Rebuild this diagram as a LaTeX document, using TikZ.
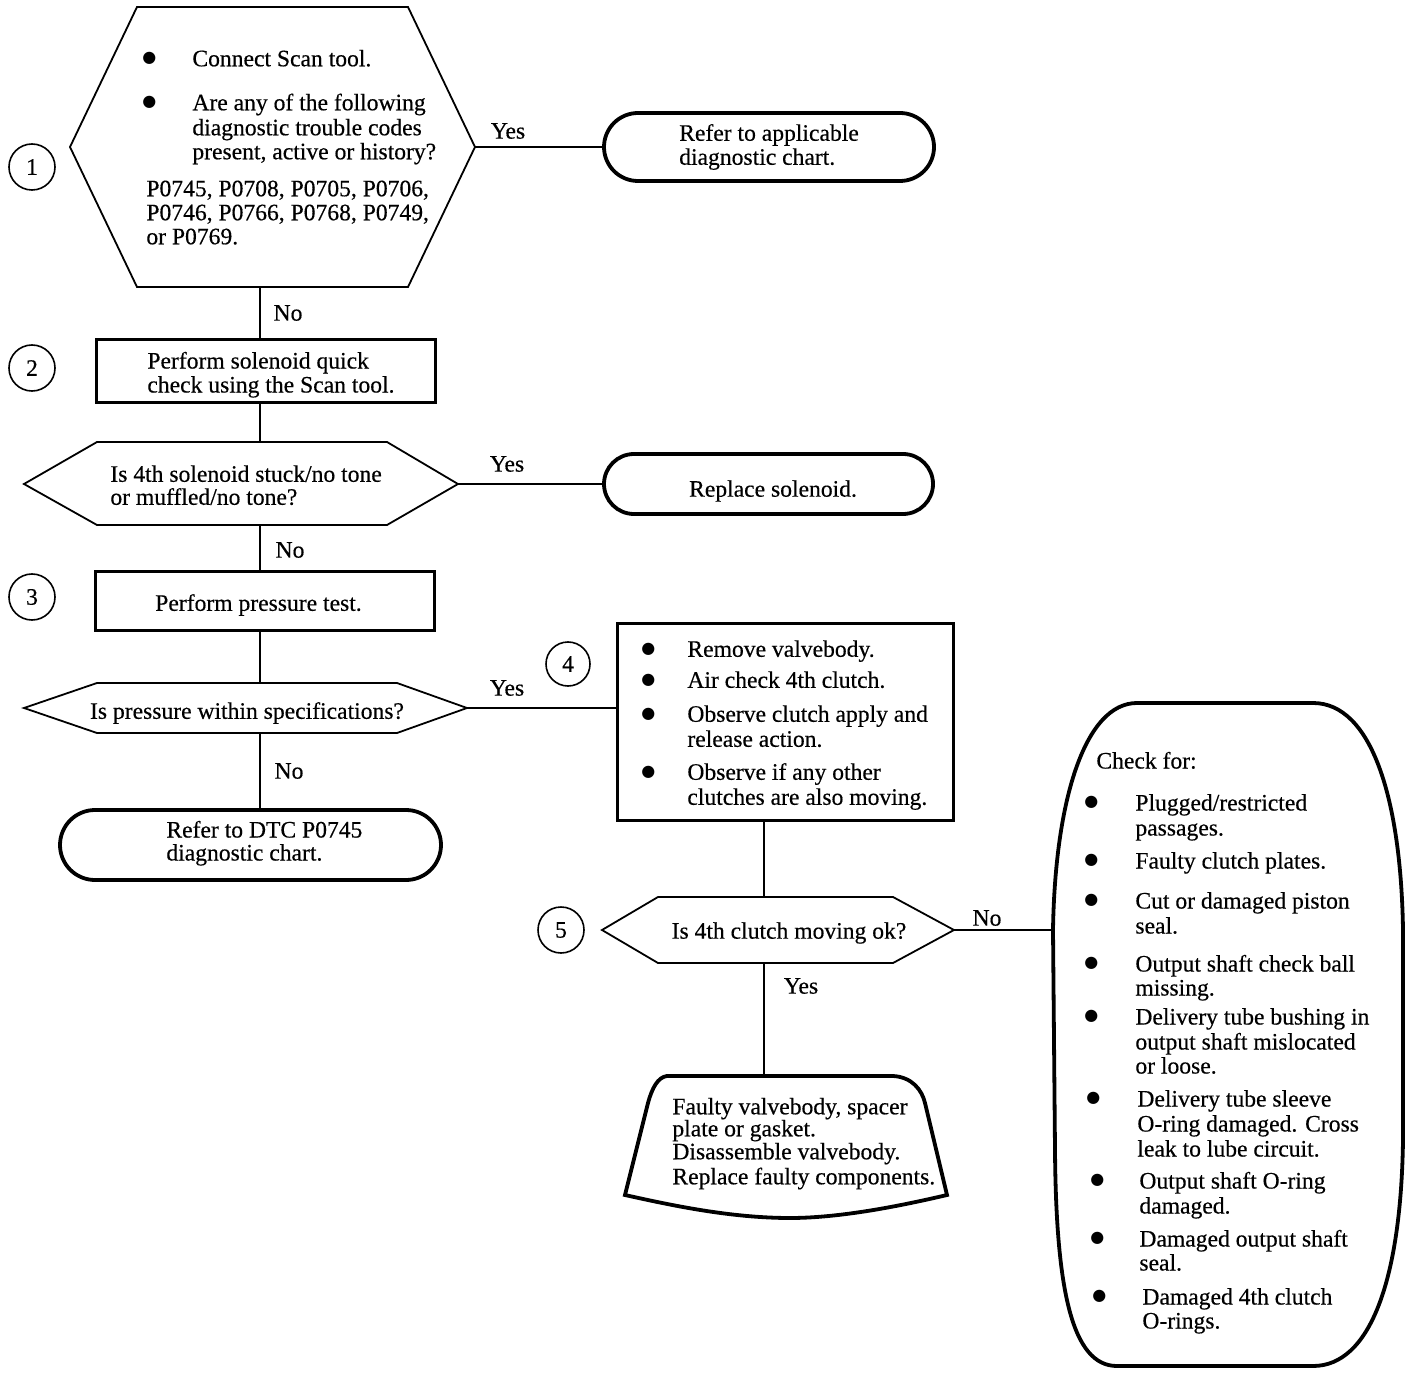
\documentclass[tikz,border=0pt]{standalone}
\usepackage{fontspec}
\setmainfont{Liberation Serif}[FakeBold=0.4]
\newfontfamily\dejavu{DejaVu Sans}
\newcommand{\bl}[1]{\makebox[#1][l]{\raisebox{1.8pt}{\dejavu\fontsize{8}{12}\selectfont ●}}}
\begin{document}
\begin{tikzpicture}[x=0.5pt,y=-0.5pt,
  every node/.style={font=\fontsize{11.8pt}{12.5pt}\selectfont, inner sep=0pt},
  conn/.style={line width=1.1pt},
  hexline/.style={line width=0.9pt, line join=miter},
  boxnode/.style={draw, line width=1.5pt, align=left},
  ovalnode/.style={draw, line width=1.9pt, align=left},
  shapeline/.style={line width=1.9pt},
  circ/.style={draw, circle, line width=0.8pt, minimum size=23pt},
  lbl/.style={anchor=center},
  txt/.style={anchor=north west, align=left}]
\useasboundingbox (0,0) rectangle (1424,1374);

% ---------- step 1 hexagon ----------
\coordinate (h1l) at (70,147);
\coordinate (h1r) at (475,147);
\coordinate (h1s) at (260,287);
\draw[hexline] (h1l) -- (137,7) -- (408,7) -- (h1r) -- (408,287) -- (137,287) -- cycle;
\node[txt] (t1) at (142,49.5) {\bl{25pt}Connect Scan tool.\\[9.5pt]
\bl{25pt}Are any of the following\\
\hspace*{25pt}diagnostic trouble codes\\[-0.5pt]
\hspace*{25pt}present, active or history?\\[6pt]
\hspace*{2pt}P0745, P0708, P0705, P0706,\\[-0.5pt]
\hspace*{2pt}P0746, P0766, P0768, P0749,\\[-0.5pt]
\hspace*{2pt}or P0769.};
\node[circ] (c1) at (32,167) {1};

\node[ovalnode, rounded corners=17pt, minimum width=165pt, minimum height=34pt] (o1) at (769,147) {Refer to applicable\\[-0.5pt]diagnostic chart.};
\draw[conn] (h1r) -- (o1.west);
\node[lbl] (y1) at (508,131) {Yes};

% ---------- step 2 ----------
\node[boxnode, minimum width=169.5pt, minimum height=31.5pt] (b2) at (265.5,371.5) {};
\node[txt] (t2) at (147,351.5) {Perform solenoid quick\\[-0.5pt]check using the Scan tool.};
\node[circ] (c2) at (32,368) {2};
\draw[conn] (h1s) -- (h1s |- b2.north);
\node[lbl] (n1) at (288,313) {No};

% ---------- hexagon 3a ----------
\coordinate (h3al) at (24,484);
\coordinate (h3ar) at (458,484);
\coordinate (h3an) at (260,442);
\coordinate (h3as) at (260,525);
\draw[hexline] (h3al) -- (97,442) -- (387,442) -- (h3ar) -- (387,525) -- (97,525) -- cycle;
\node[txt] (t3a) at (110,465) {Is 4th solenoid stuck/no tone\\[-1pt]or muffled/no tone?};
\draw[conn] (b2.south -| h3an) -- (h3an);
\node[ovalnode, rounded corners=15pt, minimum width=164.5pt, minimum height=30pt] (o2) at (768.5,484) {};
\node (to2) at (773,491) {Replace solenoid.};
\draw[conn] (h3ar) -- (o2.west);
\node[lbl] (y2) at (507,464) {Yes};

% ---------- step 3 ----------
\node[boxnode, minimum width=169.5pt, minimum height=29.5pt] (b3) at (265,600.5) {};
\node (t3) at (258.5,605) {Perform pressure test.};
\node[circ] (c3) at (32,597) {3};
\draw[conn] (h3as) -- (h3as |- b3.north);
\node[lbl] (n2) at (290,550) {No};

% ---------- hexagon 3b ----------
\coordinate (h3bl) at (24,708);
\coordinate (h3br) at (467,708);
\coordinate (h3bn) at (260,683);
\coordinate (h3bs) at (260,733);
\draw[hexline] (h3bl) -- (97,683) -- (397,683) -- (h3br) -- (397,733) -- (97,733) -- cycle;
\node (t3b) at (247,713) {Is pressure within specifications?};
\draw[conn] (b3.south -| h3bn) -- (h3bn);

% ---------- refer to DTC ----------
\node[ovalnode, rounded corners=17.5pt, minimum width=190.5pt, minimum height=35pt] (o3) at (250.5,845) {};
\node[txt] (t4) at (166,820.5) {Refer to DTC P0745\\[-1pt]diagnostic chart.};
\draw[conn] (h3bs) -- (h3bs |- o3.north);
\node[lbl] (n3) at (289,771) {No};

% ---------- step 4 ----------
\node[boxnode, minimum width=168pt, minimum height=98.5pt] (b4) at (785,722) {};
\node[txt] (t4b) at (641,640) {\bl{23pt}Remove valvebody.\\[3pt]
\bl{23pt}Air check 4th clutch.\\[4.5pt]
\bl{23pt}Observe clutch apply and\\
\hspace*{23pt}release action.\\[4pt]
\bl{23pt}Observe if any other\\
\hspace*{23pt}clutches are also moving.};
\node[circ, minimum size=22pt] (c4) at (568,664) {4};
\draw[conn] (h3br) -- (h3br -| b4.west);
\node[lbl] (y3) at (507,688) {Yes};

% ---------- hexagon 5 ----------
\coordinate (h5l) at (602,930);
\coordinate (h5r) at (954,930);
\coordinate (h5n) at (764,897);
\coordinate (h5s) at (764,963);
\draw[hexline] (h5l) -- (658,897) -- (893,897) -- (h5r) -- (893,963) -- (658,963) -- cycle;
\node (t5) at (789,933) {Is 4th clutch moving ok?};
\node[circ] (c5) at (561,930) {5};
\draw[conn] (b4.south -| h5n) -- (h5n);

% ---------- check for ----------
\coordinate (chkl) at (1053,930);
\draw[shapeline] (1137,703) -- (1313,703) .. controls (1372,703) and (1401,800) .. (1403,930)
  -- (1403,1140) .. controls (1401,1280) and (1370,1366) .. (1313,1366)
  -- (1117,1366) .. controls (1072,1366) and (1056,1290) .. (1055,1150)
  -- (chkl) .. controls (1055,800) and (1085,703) .. cycle;
\node[txt] (tchk) at (1084,751.5) {\hspace*{6pt}Check for:\\[8.5pt]
\bl{25.5pt}Plugged/restricted\\
\hspace*{25.5pt}passages.\\[4pt]
\bl{25.5pt}Faulty clutch plates.\\[7.5pt]
\bl{25.5pt}Cut or damaged piston\\
\hspace*{25.5pt}seal.\\[6.5pt]
\bl{25.5pt}Output shaft check ball\\[-0.5pt]
\hspace*{25.5pt}missing.\\[2pt]
\bl{25.5pt}Delivery tube bushing in\\
\hspace*{25.5pt}output shaft mislocated\\[-0.5pt]
\hspace*{25.5pt}or loose.\\[4pt]
\hspace*{1pt}\bl{25.5pt}Delivery tube sleeve\\
\hspace*{26.5pt}O-ring damaged. Cross\\
\hspace*{26.5pt}leak to lube circuit.\\[3.5pt]
\hspace*{3pt}\bl{24.5pt}Output shaft O-ring\\
\hspace*{27.5pt}damaged.\\[4pt]
\hspace*{3pt}\bl{24.5pt}Damaged output shaft\\[-0.5pt]
\hspace*{27.5pt}seal.\\[4.5pt]
\hspace*{4pt}\bl{25pt}Damaged 4th clutch\\[-0.5pt]
\hspace*{29pt}O-rings.};
\draw[conn] (h5r) -- (chkl);
\node[lbl] (n4) at (987,918) {No};

% ---------- faulty valvebody ----------
\coordinate (fvn) at (764,1076);
\draw[shapeline] (667,1076) -- (893,1076) .. controls (912,1077) and (922,1090) .. (925,1103)
  -- (947,1195) .. controls (900,1206) and (840,1218) .. (790,1218)
  .. controls (730,1218) and (670,1205) .. (625,1195)
  -- (648,1103) .. controls (652,1088) and (658,1077) .. cycle;
\node[txt] (tfv) at (672,1097.5) {Faulty valvebody, spacer\\[-1.5pt]plate or gasket.\\[-1pt]Disassemble valvebody.\\Replace faulty components.};
\draw[conn] (h5s) -- (fvn);
\node[lbl] (y4) at (801,986) {Yes};
\end{tikzpicture}
\end{document}
